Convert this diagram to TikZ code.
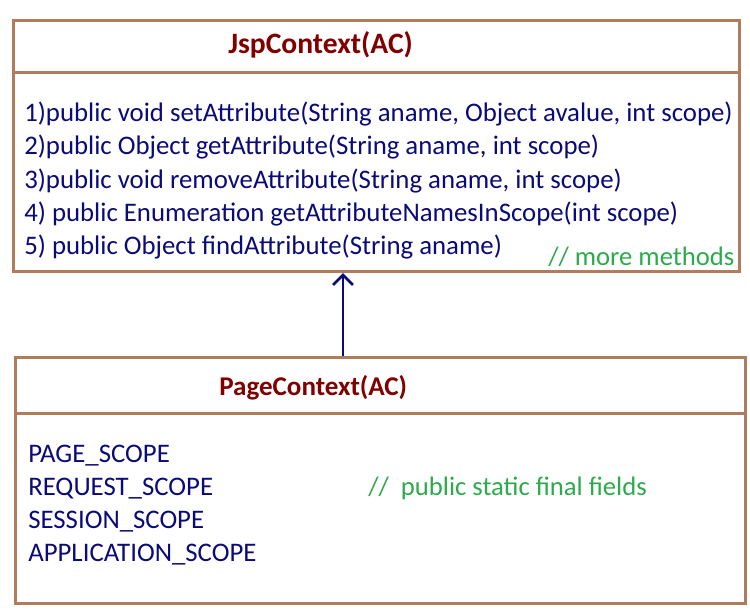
\documentclass[tikz,border=0pt]{standalone}
\usepackage{fontspec}
\setmainfont{Carlito}
\usetikzlibrary{arrows.meta, positioning}
\definecolor{boxbrown}{RGB}{176,124,94}
\definecolor{titlered}{RGB}{128,0,0}
\definecolor{textnavy}{RGB}{10,10,120}
\definecolor{notegreen}{RGB}{45,170,75}

\tikzset{
	classbox/.style={draw=boxbrown, line width=2.25pt, anchor=north west, inner sep=0pt},
	divider/.style={draw=boxbrown, line width=2.25pt},
	title/.style={anchor=base west, inner sep=0pt, text=titlered, font=\fontsize{20.3}{24}\selectfont\bfseries},
	member/.style={anchor=base west, inner sep=0pt, text=textnavy, font=\fontsize{20.1}{24}\selectfont},
	note/.style={anchor=base west, inner sep=0pt, text=notegreen, font=\fontsize{20}{24}\selectfont},
	inherit/.style={draw=textnavy, line width=2.1pt, -{Straight Barb[length=7.5pt, width=15pt, line width=2.1pt]}}
}

\begin{document}
\begin{tikzpicture}[x=0.75pt, y=-0.75pt]
	\useasboundingbox (0,0) rectangle (750,612);

	% upper class
	\node[classbox, minimum width=544.5pt, minimum height=188.25pt] (jsp) at (12,19) {};
	\draw[divider] (12,72) -- (738,72);
	\node[title, font=\fontsize{22.2}{26}\selectfont\bfseries] (jsptitle) at (228,53) {JspContext(AC)};

	\node[member] (m1) at (24,121) {1)public void setAttribute(String aname, Object avalue, int scope)};
	\node[member] (m2) at (24,154) {2)public Object getAttribute(String aname, int scope)};
	\node[member] (m3) at (24,188) {3)public void removeAttribute(String aname, int scope)};
	\node[member] (m4) at (24,221) {4) public Enumeration getAttributeNamesInScope(int scope)};
	\node[member] (m5) at (24,254) {5) public Object findAttribute(String aname)};
	\node[note] (more) at (548,265) {// more methods};

	% lower class
	\node[classbox, minimum width=547.5pt, minimum height=184.5pt] (page) at (14,356) {};
	\draw[divider] (14,413) -- (744,413);
	\node[title] (pagetitle) at (219,395) {PageContext(AC)};

	\node[member] (f1) at (28,462) {PAGE\_SCOPE};
	\node[member] (f2) at (28,495) {REQUEST\_SCOPE};
	\node[member] (f3) at (28,528) {SESSION\_SCOPE};
	\node[member] (f4) at (28,561) {APPLICATION\_SCOPE};
	\node[note] (fields) at (368,495) {//\ \ public static final fields};

	% extends arrow
	\coordinate (ax) at (343,0);
	\draw[inherit] (page.north -| ax) -- (jsp.south -| ax);
\end{tikzpicture}
\end{document}
